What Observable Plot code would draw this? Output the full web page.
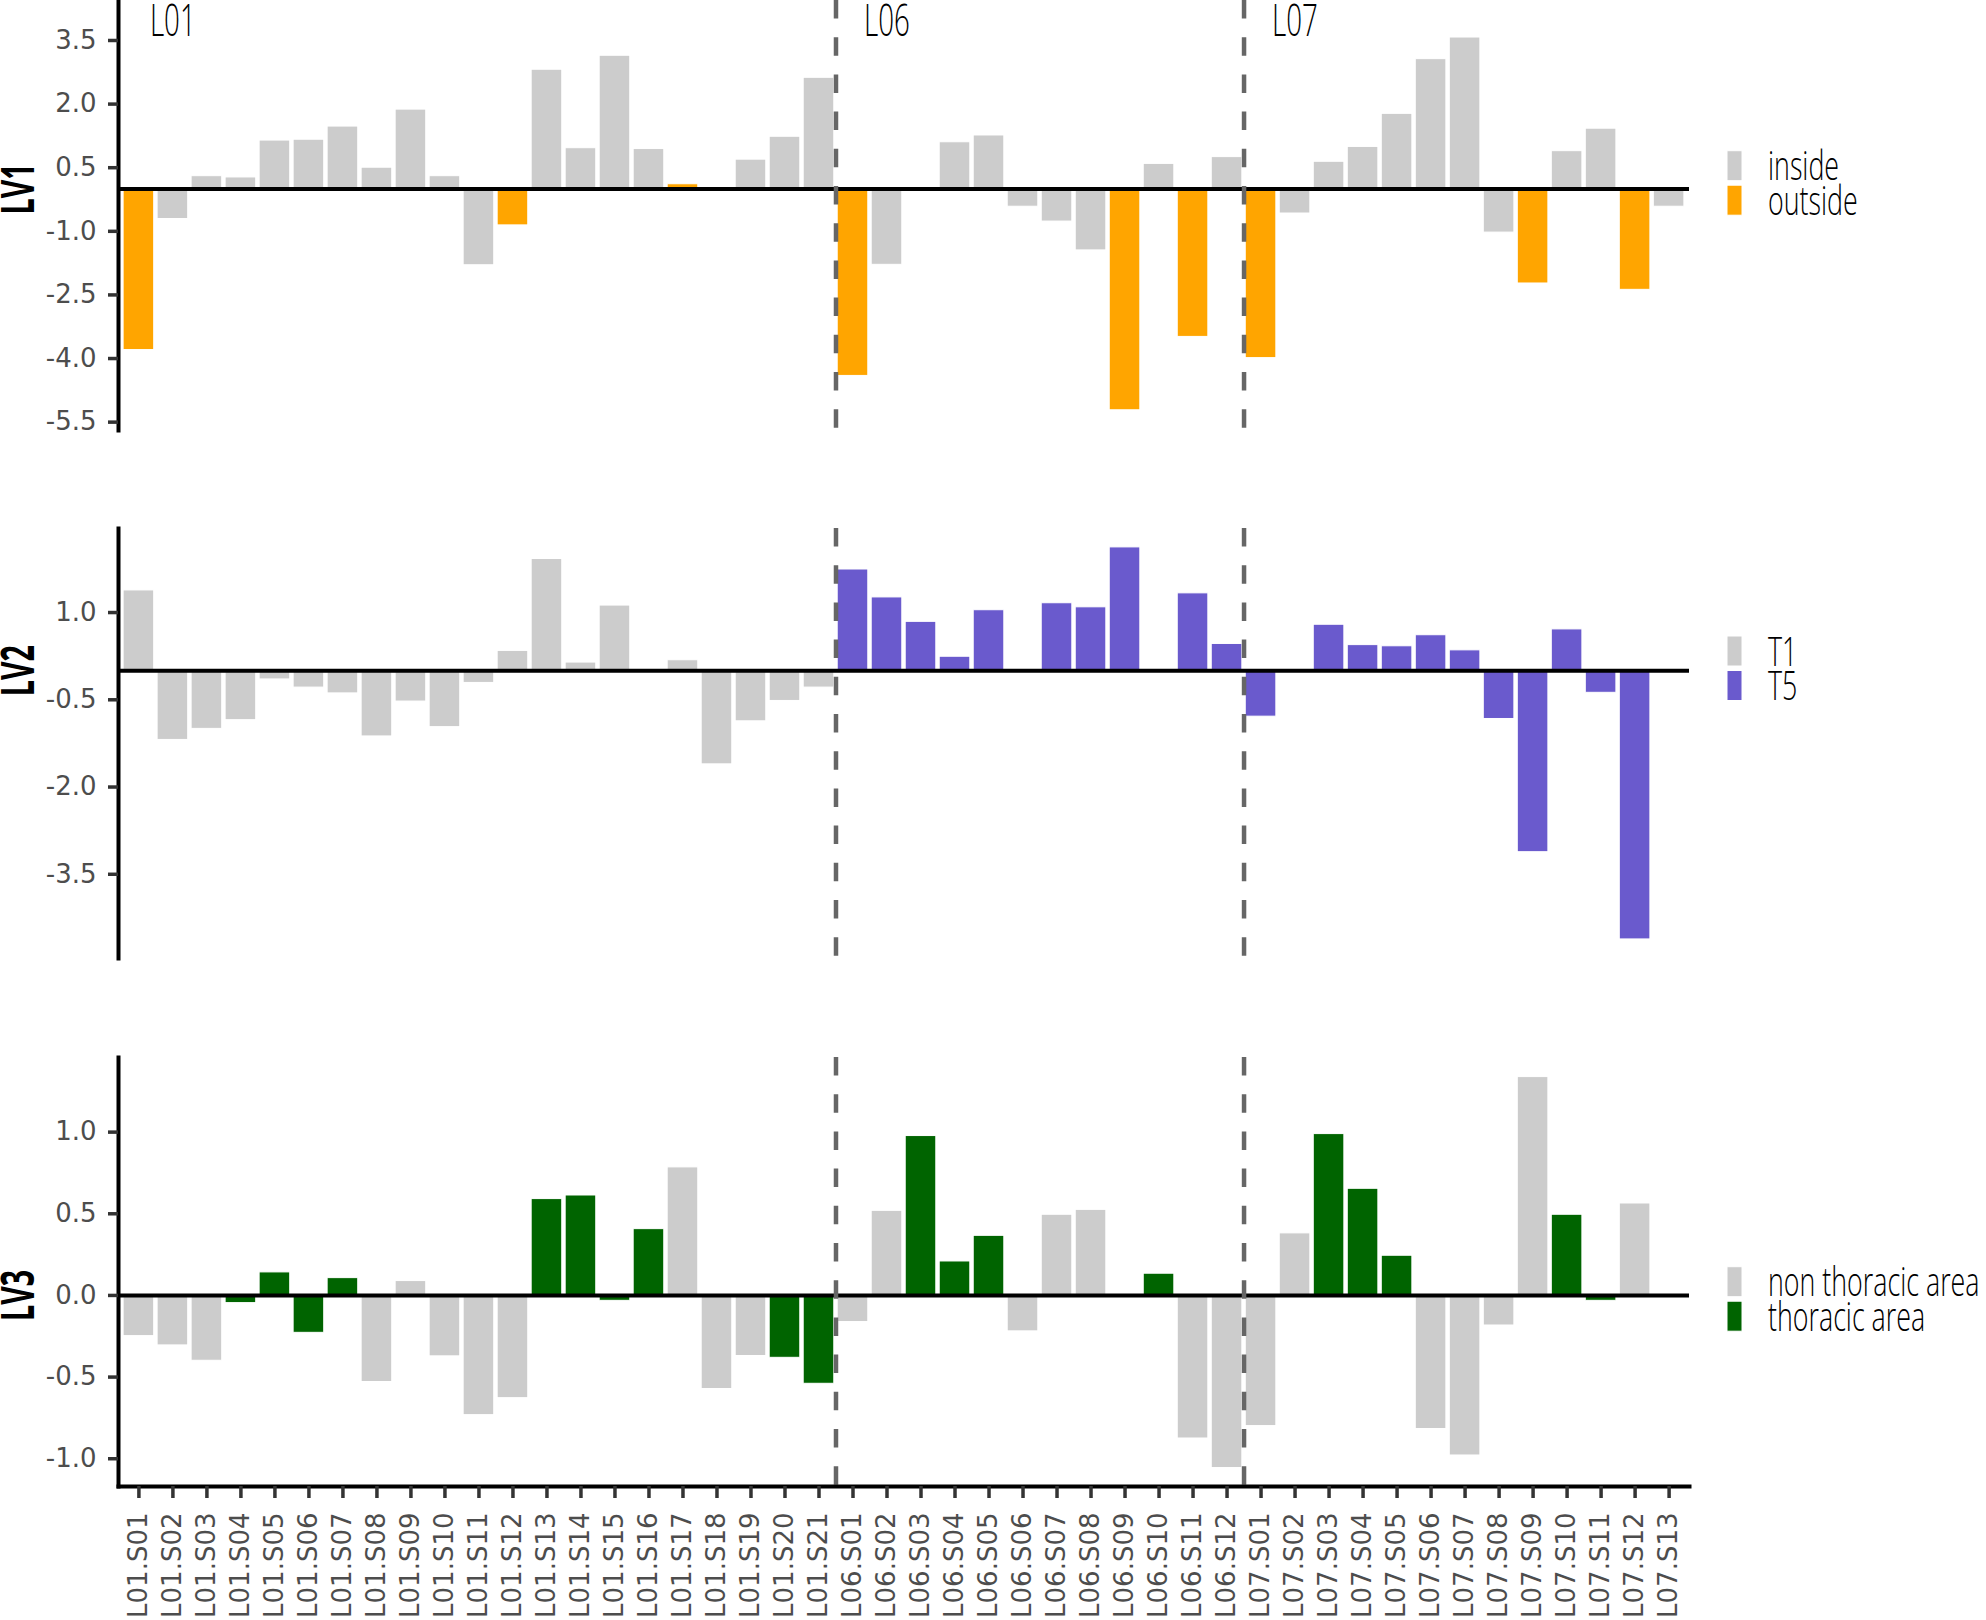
<!DOCTYPE html>
<html><head><meta charset="utf-8">
<script src="https://cdn.jsdelivr.net/npm/d3@7"></script>
<script src="https://cdn.jsdelivr.net/npm/@observablehq/plot@0.6"></script>
<style>
body{margin:0;background:#fff;}
#chart{position:relative;width:1986px;height:1620px;overflow:hidden;background:#fff;}
#chart > svg{position:absolute;left:0;}
</style></head><body><div id="chart"></div>
<script>
// ---------- data ----------
const locations = ["L01", "L06", "L07"];
const samples = [
  "L01.S01","L01.S02","L01.S03","L01.S04","L01.S05","L01.S06","L01.S07","L01.S08","L01.S09","L01.S10",
  "L01.S11","L01.S12","L01.S13","L01.S14","L01.S15","L01.S16","L01.S17","L01.S18","L01.S19","L01.S20","L01.S21",
  "L06.S01","L06.S02","L06.S03","L06.S04","L06.S05","L06.S06","L06.S07","L06.S08","L06.S09","L06.S10","L06.S11","L06.S12",
  "L07.S01","L07.S02","L07.S03","L07.S04","L07.S05","L07.S06","L07.S07","L07.S08","L07.S09","L07.S10","L07.S11","L07.S12","L07.S13"
];
const lv1 = [
  -3.80,-0.71,0.30,0.27,1.14,1.16,1.47,0.50,1.87,0.30,-1.80,-0.86,2.81,0.96,3.14,0.94,0.11,0.00,0.69,1.23,2.62,
  -4.41,-1.79,0.00,1.10,1.26,-0.42,-0.77,-1.45,-5.22,0.59,-3.49,0.75,
  -3.99,-0.58,0.64,0.99,1.77,3.06,3.57,-1.03,-2.23,0.89,1.42,-2.38,-0.42
];
const lv1Class = [
  "outside","inside","inside","inside","inside","inside","inside","inside","inside","inside","inside","outside","inside","inside","inside","inside","outside","inside","inside","inside","inside",
  "outside","inside","inside","inside","inside","inside","inside","inside","outside","inside","outside","inside",
  "outside","inside","inside","inside","inside","inside","inside","inside","outside","inside","inside","outside","inside"
];
const lv2 = [
  1.38,-1.19,-1.00,-0.85,-0.15,-0.29,-0.39,-1.13,-0.53,-0.97,-0.21,0.34,1.92,0.14,1.12,0.00,0.18,-1.61,-0.87,-0.52,-0.29,
  1.74,1.26,0.84,0.24,1.04,0.00,1.16,1.09,2.12,0.00,1.33,0.46,
  -0.79,0.00,0.79,0.44,0.42,0.61,0.35,-0.83,-3.12,0.71,-0.38,-4.62,0.00
];
const lv2Class = [
  "T1","T1","T1","T1","T1","T1","T1","T1","T1","T1","T1","T1","T1","T1","T1","T1","T1","T1","T1","T1","T1",
  "T5","T5","T5","T5","T5","T5","T5","T5","T5","T5","T5","T5",
  "T5","T5","T5","T5","T5","T5","T5","T5","T5","T5","T5","T5","T5"
];
const lv3 = [
  -0.249,-0.306,-0.400,-0.047,0.141,-0.229,0.106,-0.530,0.088,-0.373,-0.733,-0.629,0.590,0.612,-0.033,0.406,0.784,-0.573,-0.371,-0.382,-0.541,
  -0.163,0.518,0.976,0.208,0.365,-0.220,0.494,0.524,0.000,0.133,-0.876,-1.057,
  -0.800,0.380,0.988,0.653,0.243,-0.818,-0.980,-0.184,1.337,0.494,-0.033,0.563,0.000
];
const lv3Class = [
  "non thoracic area","non thoracic area","non thoracic area","thoracic area","thoracic area","thoracic area","thoracic area","non thoracic area","non thoracic area","non thoracic area",
  "non thoracic area","non thoracic area","thoracic area","thoracic area","thoracic area","thoracic area","non thoracic area","non thoracic area","non thoracic area","thoracic area","thoracic area",
  "non thoracic area","non thoracic area","thoracic area","thoracic area","thoracic area","non thoracic area","non thoracic area","non thoracic area","non thoracic area","thoracic area","non thoracic area","non thoracic area",
  "non thoracic area","non thoracic area","thoracic area","thoracic area","thoracic area","non thoracic area","non thoracic area","non thoracic area","non thoracic area","thoracic area","thoracic area","non thoracic area","non thoracic area"
];
const lv1Ticks = [3.5, 2.0, 0.5, -1.0, -2.5, -4.0, -5.5];
const lv2Ticks = [1.0, -0.5, -2.0, -3.5];
const lv3Ticks = [1.0, 0.5, 0.0, -0.5, -1.0];
const lv1Legend = ["inside", "outside"];
const lv2Legend = ["T1", "T5"];
const lv3Legend = ["non thoracic area", "thoracic area"];
const lv1Colors = ["#cccccc", "#ffa500"];
const lv2Colors = ["#cccccc", "#6a5acd"];
const lv3Colors = ["#cccccc", "#006400"];

// ---------- derived ----------
const rows = samples.map((s, k) => ({s, i: k + 1, loc: s.slice(0, 3)}));
const locFirst = locations.map(l => ({loc: l, i: rows.find(r => r.loc === l).i}));
const boundaries = locFirst.slice(1).map(d => d.i - 0.5);

const W = 1986, ML = 118, PANEL_RIGHT = 1689;
const chart = document.getElementById("chart");

function condenseText(t, f) {
  const L = t.getComputedTextLength();
  if (L > 0) {
    t.setAttribute("textLength", (L * f).toFixed(2));
    t.setAttribute("lengthAdjust", "spacingAndGlyphs");
  }
}

function panel({values, classes, legend, colors, yDomain, ticks, top, height, mb, title, showX, showLoc}) {
  const data = rows.map((r, k) => ({...r, v: values[k], c: classes[k]}));
  const marks = [
    Plot.rect(data, {x1: d => d.i - 0.45, x2: d => d.i + 0.45, y1: 0, y2: "v", fill: "c", stroke: "white", strokeWidth: 1}),
    Plot.ruleY([0], {stroke: "black", strokeWidth: 4}),
    Plot.ruleX(boundaries, {stroke: "#666666", strokeWidth: 4.5, strokeDasharray: "18.5,18.7"}),
    Plot.frame({anchor: "left", stroke: "black", strokeWidth: 4}),
    Plot.axisY({ticks, tickSize: 10, tickPadding: 12, stroke: "#333333", strokeWidth: 3.5, fill: "#4d4d4d",
      fontSize: 26, fontFamily: "DejaVu Sans", tickFormat: d => d.toFixed(1), label: null}),
    Plot.text([{label: title, v: 0}], {y: "v", text: "label", frameAnchor: "left", dx: -99, rotate: -90,
      textAnchor: "middle", fontSize: 46, fontWeight: "bold", fontFamily: "Open Sans", fill: "black"})
  ];
  if (showLoc) {
    marks.push(Plot.text(locFirst, {x: "i", text: "loc", frameAnchor: "top", textAnchor: "start", lineAnchor: "top",
      dx: 11, dy: 4, fontSize: 44, fontWeight: 300, fontFamily: "Open Sans", fill: "black"}));
  }
  if (showX) {
    marks.push(Plot.frame({anchor: "bottom", stroke: "black", strokeWidth: 4}));
    marks.push(Plot.axisX({ticks: rows.map(r => r.i), tickFormat: i => samples[i - 1], tickRotate: -90,
      tickSize: 12, tickPadding: 14, stroke: "#333333", strokeWidth: 3.5, fill: "#4d4d4d",
      fontSize: 26, fontFamily: "DejaVu Sans", label: null}));
  }
  const svg = Plot.plot({
    width: W, height, marginLeft: ML, marginRight: W - PANEL_RIGHT, marginTop: 0, marginBottom: mb,
    style: {background: "transparent", overflow: "visible"},
    x: {type: "linear", domain: [0.4, samples.length + 0.6], axis: showX ? undefined : null, label: null},
    y: {domain: yDomain, label: null},
    color: {domain: legend, range: colors},
    marks
  });
  svg.style.top = top + "px";
  chart.appendChild(svg);
  svg.querySelectorAll('g[aria-label="text"] text').forEach(t =>
    condenseText(t, /^LV/.test(t.textContent) ? 0.62 : 0.63));
}

panel({values: lv1, classes: lv1Class, legend: lv1Legend, colors: lv1Colors, yDomain: [-5.697, 4.443],
  ticks: lv1Ticks, top: 0, height: 430, mb: 0, title: "LV1", showX: false, showLoc: true});
panel({values: lv2, classes: lv2Class, legend: lv2Legend, colors: lv2Colors, yDomain: [-4.948, 2.445],
  ticks: lv2Ticks, top: 528, height: 430, mb: 0, title: "LV2", showX: false, showLoc: false});
panel({values: lv3, classes: lv3Class, legend: lv3Legend, colors: lv3Colors, yDomain: [-1.170, 1.457],
  ticks: lv3Ticks, top: 1057, height: 563, mb: 134, title: "LV3", showX: true, showLoc: false});

// ---------- legends ----------
const ov = d3.select(chart).append("svg").attr("width", W).attr("height", 1620).style("top", "0px").style("overflow", "hidden");
const legends = [
  {labels: lv1Legend, colors: lv1Colors, top: 150.7},
  {labels: lv2Legend, colors: lv2Colors, top: 636},
  {labels: lv3Legend, colors: lv3Colors, top: 1266.7}
];
legends.forEach(L => {
  L.labels.forEach((lab, k) => {
    const y0 = L.top + k * 34.5;
    ov.append("rect").attr("x", 1727).attr("y", y0).attr("width", 15).attr("height", 30)
      .attr("fill", L.colors[k]).attr("stroke", "white").attr("stroke-width", 1);
    const t = ov.append("text").attr("x", 1768).attr("y", y0 + 29.5)
      .attr("font-family", "Open Sans").attr("font-weight", 300).attr("font-size", 40).attr("fill", "black")
      .text(lab);
    condenseText(t.node(), 0.67);
  });
});
</script></body></html>
